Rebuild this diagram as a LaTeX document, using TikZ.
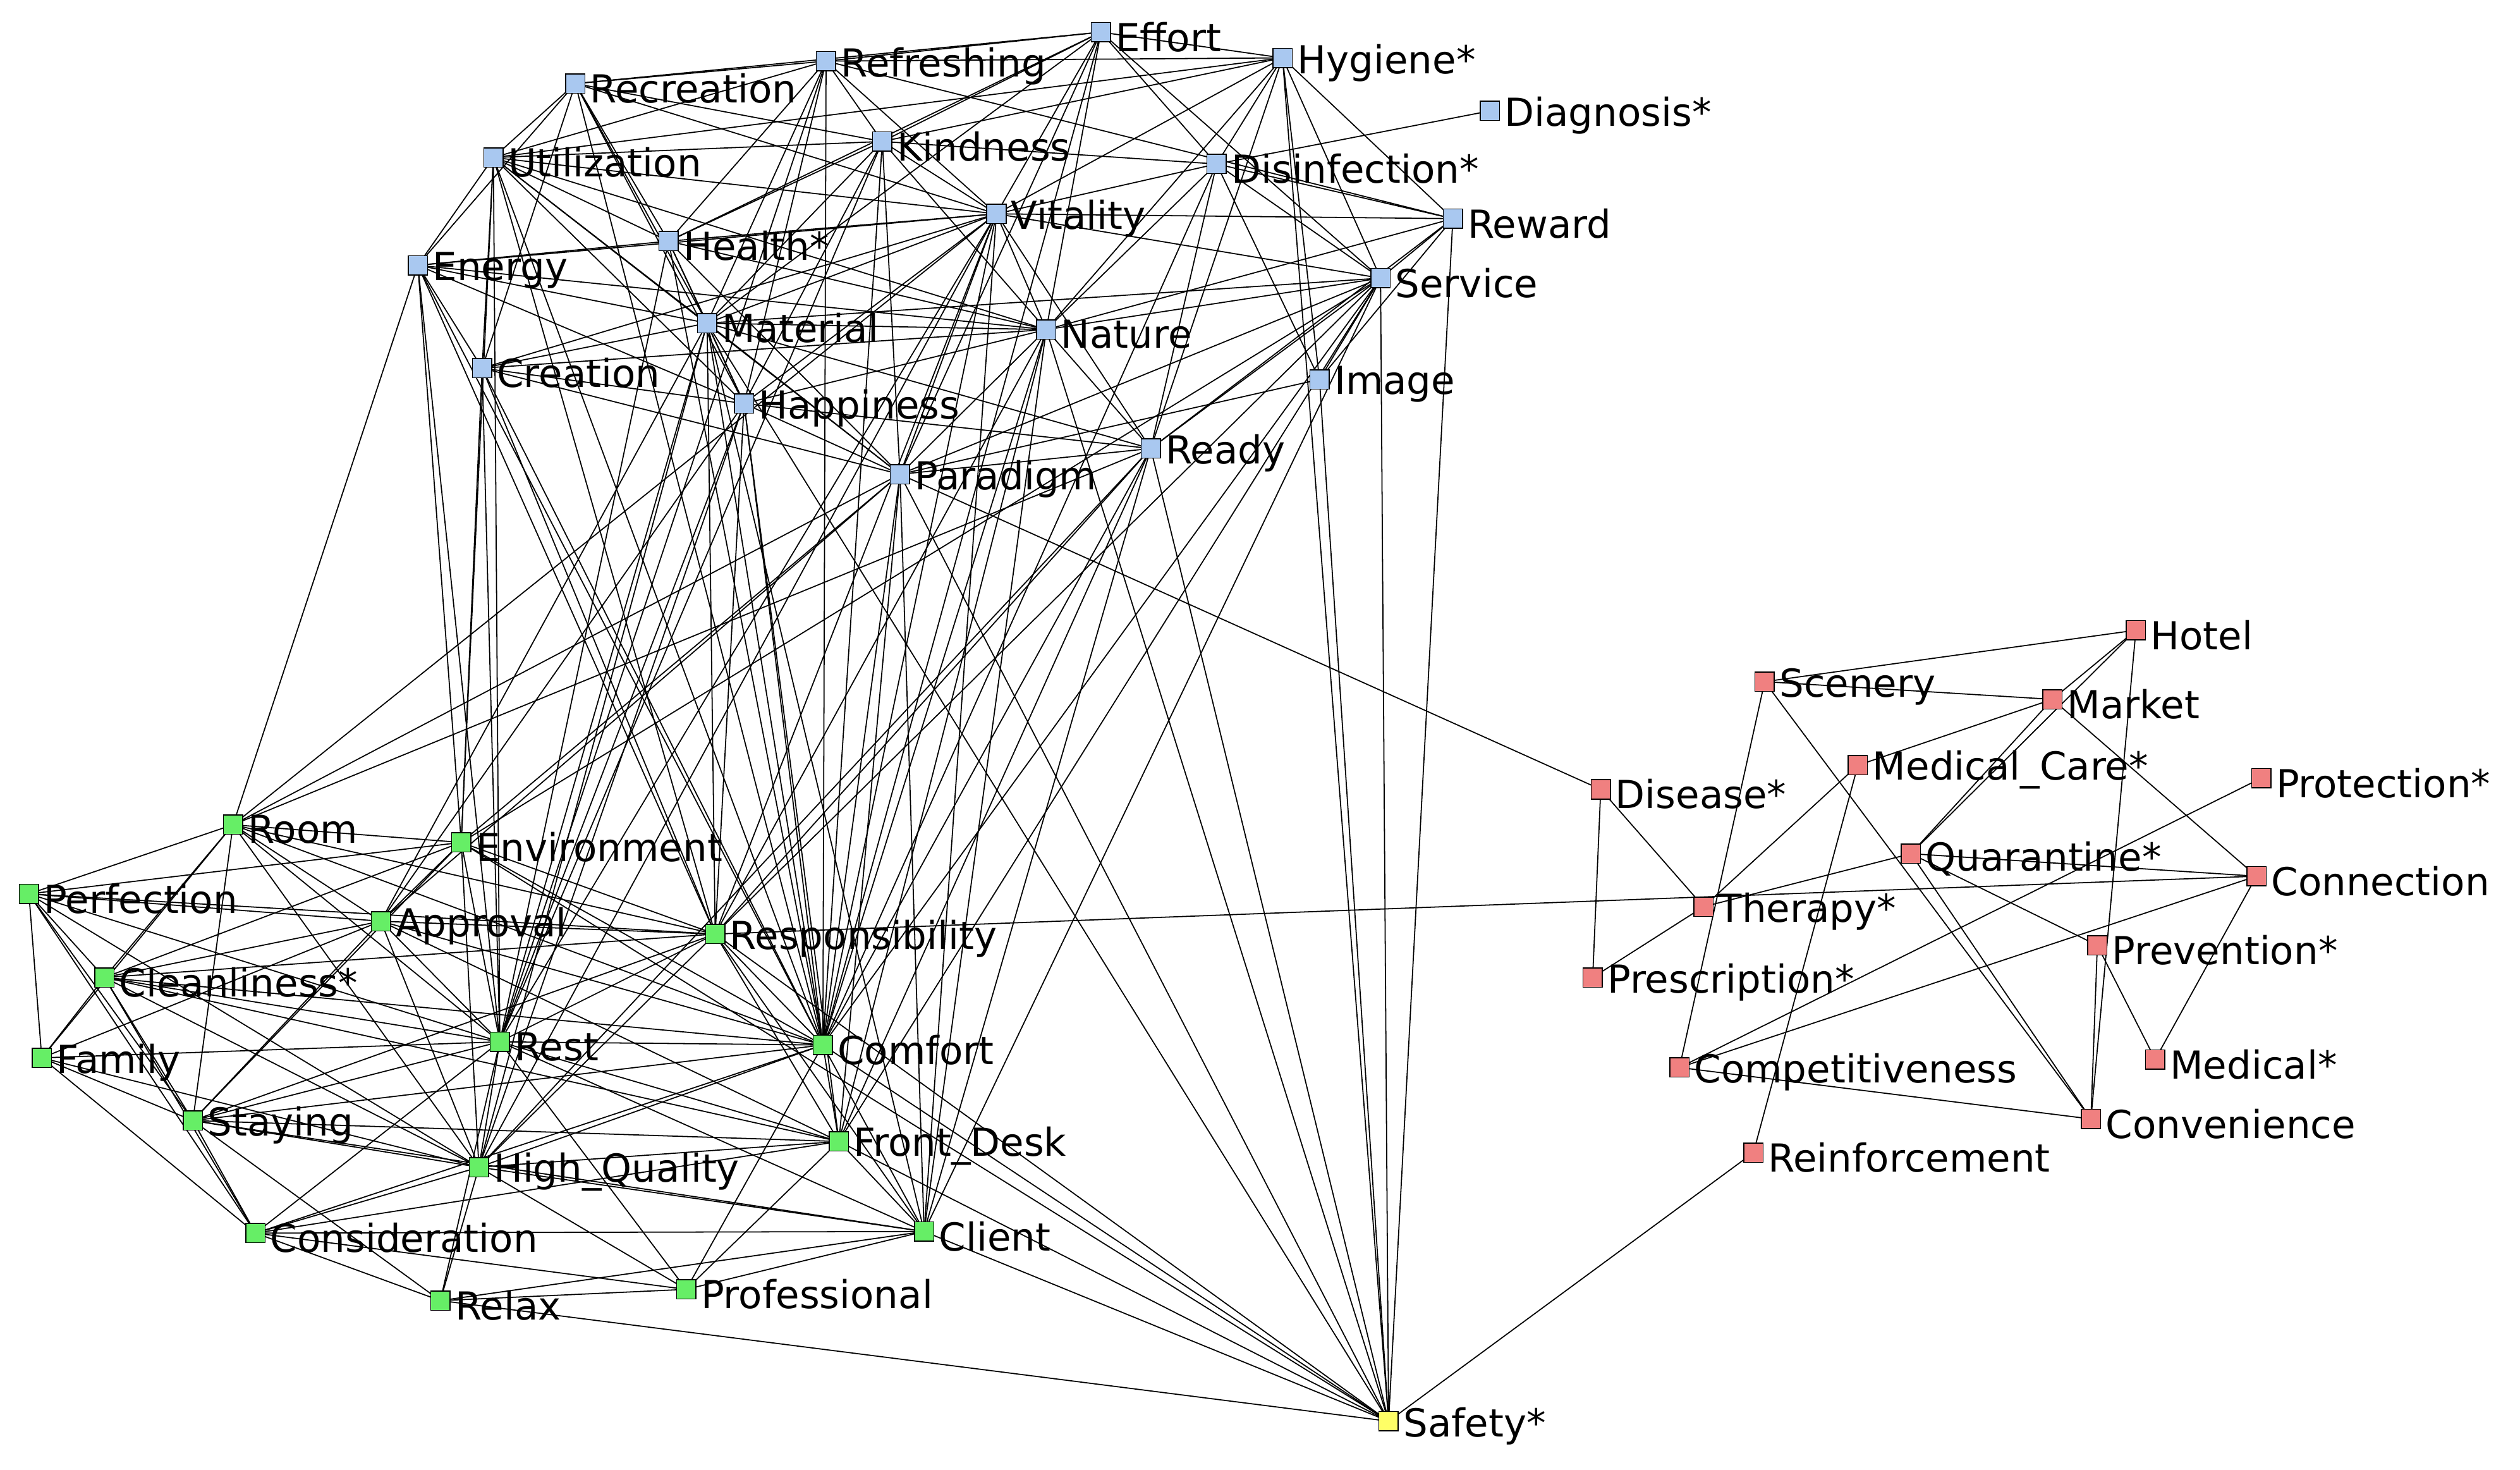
\documentclass[tikz,border=0pt]{standalone}
\usepackage{fontspec}
\setmainfont{DejaVu Sans}
\usetikzlibrary{backgrounds}
\definecolor{bl}{HTML}{A9C8F0}
\definecolor{gr}{HTML}{66EE66}
\definecolor{rd}{HTML}{F08080}
\definecolor{ye}{HTML}{FFFF66}
\begin{document}
\begin{tikzpicture}[x=1pt,y=-1pt,
  sq/.style={draw=black,line width=0.6pt,minimum size=12pt,inner sep=0pt,outer sep=0pt},
  B/.style={sq,fill=bl}, G/.style={sq,fill=gr}, R/.style={sq,fill=rd}, Y/.style={sq,fill=ye},
  lab/.style={font=\fontsize{24}{28}\selectfont,inner sep=0pt,label distance=3pt,yshift=-3pt},
  ed/.style={line width=0.7pt,black}]
\useasboundingbox (0,0) rectangle (1568,914);
\def\N#1#2#3#4#5{\node[#1,label={[lab]right:#5}] (#2) at (#3,#4) {};}
% blue
\N{B}{Eff}{685}{20}{Effort}
\N{B}{Hyg}{798}{36}{Hygiene*}
\N{B}{Ref}{514}{38}{Refreshing}
\N{B}{Rec}{358}{52}{Recreation}
\N{B}{Dia}{927}{69}{Diagnosis*}
\N{B}{Kin}{549}{88}{Kindness}
\N{B}{Uti}{307}{98}{Utilization}
\N{B}{Dis}{757}{102}{Disinfection*}
\N{B}{Vit}{620}{133}{Vitality}
\N{B}{Rew}{904}{136}{Reward}
\N{B}{Hea}{416}{150}{Health*}
\N{B}{Ene}{260}{165}{Energy}
\N{B}{Ser}{859}{173}{Service}
\N{B}{Mat}{440}{201}{Material}
\N{B}{Nat}{651}{205}{Nature}
\N{B}{Cre}{300}{229}{Creation}
\N{B}{Ima}{821}{236}{Image}
\N{B}{Hap}{463}{251}{Happiness}
\N{B}{Rea}{716}{279}{Ready}
\N{B}{Par}{560}{295}{Paradigm}
% green
\N{G}{Roo}{145}{513}{Room}
\N{G}{Env}{287}{524}{Environment}
\N{G}{Per}{18}{556}{Perfection}
\N{G}{App}{237}{573}{Approval}
\N{G}{Res}{445}{581}{Responsibility}
\N{G}{Cle}{65}{608}{Cleanliness*}
\N{G}{Rst}{311}{648}{Rest}
\N{G}{Com}{512}{650}{Comfort}
\N{G}{Fam}{26}{658}{Family}
\N{G}{Sta}{120}{697}{Staying}
\N{G}{Fro}{522}{710}{Front\_Desk}
\N{G}{Hig}{298}{726}{High\_Quality}
\N{G}{Cli}{575}{766}{Client}
\N{G}{Con}{159}{767}{Consideration}
\N{G}{Rel}{274}{809}{Relax}
\N{G}{Pro}{427}{802}{Professional}
% yellow
\N{Y}{Saf}{864}{884}{Safety*}
% red
\N{R}{Hot}{1329}{392}{Hotel}
\N{R}{Sce}{1098}{424}{Scenery}
\N{R}{Mar}{1277}{435}{Market}
\N{R}{Mca}{1156}{476}{Medical\_Care*}
\N{R}{Prt}{1407}{484}{Protection*}
\N{R}{Dse}{996}{491}{Disease*}
\N{R}{Qua}{1189}{531}{Quarantine*}
\N{R}{Cnn}{1404}{545}{Connection}
\N{R}{The}{1060}{564}{Therapy*}
\N{R}{Pre}{1305}{588}{Prevention*}
\N{R}{Prs}{991}{608}{Prescription*}
\N{R}{Med}{1341}{659}{Medical*}
\N{R}{Cmp}{1045}{664}{Competitiveness}
\N{R}{Cnv}{1301}{696}{Convenience}
\N{R}{Rei}{1091}{717}{Reinforcement}
\begin{scope}[on background layer]
\fill[white] (0,0) rectangle (1568,914);
\foreach \a/\b in {
Eff/Ref,Eff/Hyg,Eff/Kin,Eff/Vit,Eff/Rec,Eff/Dis,Eff/Nat,Eff/Hea,Eff/Mat,Eff/Par,Eff/Ser,
Hyg/Ref,Hyg/Kin,Hyg/Dis,Hyg/Vit,Hyg/Rew,Hyg/Ser,Hyg/Ima,Hyg/Rea,Hyg/Nat,Hyg/Uti,
Ref/Rec,Ref/Kin,Ref/Uti,Ref/Vit,Ref/Hea,Ref/Mat,Ref/Hap,Ref/Rew,
Rec/Uti,Rec/Kin,Rec/Hea,Rec/Ene,Rec/Mat,Rec/Cre,Rec/Vit,Rec/Hap,
Kin/Uti,Kin/Vit,Kin/Hea,Kin/Mat,Kin/Nat,Kin/Hap,Kin/Par,Kin/Dis,
Uti/Ene,Uti/Hea,Uti/Vit,Uti/Mat,Uti/Cre,Uti/Hap,Uti/Nat,Uti/Par,
Dis/Vit,Dis/Rew,Dis/Ser,Dis/Ima,Dis/Nat,Dis/Rea,Dia/Dis,
Vit/Hea,Vit/Mat,Vit/Nat,Vit/Ser,Vit/Rew,Vit/Hap,Vit/Par,Vit/Rea,Vit/Ene,Vit/Cre,
Rew/Ser,Rew/Ima,Rew/Rea,Rew/Nat,
Hea/Ene,Hea/Mat,Hea/Hap,Hea/Nat,Hea/Par,
Ene/Mat,Ene/Cre,Ene/Hap,Ene/Nat,
Ser/Ima,Ser/Rea,Ser/Nat,Ser/Par,Ser/Mat,
Mat/Nat,Mat/Cre,Mat/Hap,Mat/Par,Mat/Rea,
Nat/Hap,Nat/Par,Nat/Rea,Nat/Cre,Cre/Hap,Cre/Par,Hap/Par,Hap/Rea,Par/Rea,Par/Ima,
Roo/Env,Roo/Per,Roo/App,Roo/Cle,Roo/Rst,Roo/Com,Roo/Res,Roo/Fam,Roo/Sta,Roo/Hig,
Env/App,Env/Res,Env/Rst,Env/Com,Env/Per,Env/Cle,Env/Sta,Env/Hig,
Per/App,Per/Cle,Per/Fam,Per/Sta,Per/Rst,Per/Con,Per/Hig,Per/Res,
App/Res,App/Cle,App/Rst,App/Com,App/Sta,App/Hig,App/Fam,App/Fro,
Res/Rst,Res/Com,Res/Cle,Res/Fro,Res/Hig,Res/Cli,Res/Sta,
Cle/Rst,Cle/Fam,Cle/Sta,Cle/Hig,Cle/Con,Cle/Com,Cle/Fro,
Rst/Com,Rst/Fro,Rst/Hig,Rst/Cli,Rst/Sta,Rst/Con,Rst/Rel,Rst/Pro,Rst/Fam,
Com/Fro,Com/Cli,Com/Hig,Com/Sta,Com/Pro,Com/Con,
Fam/Sta,Fam/Con,Fam/Hig,Sta/Hig,Sta/Con,Sta/Rel,Sta/Fro,Sta/Cli,
Fro/Cli,Fro/Hig,Fro/Pro,Fro/Con,Hig/Cli,Hig/Con,Hig/Rel,Hig/Pro,
Cli/Pro,Cli/Con,Cli/Rel,Con/Rel,Con/Pro,Rel/Pro,
Com/Rec,Com/Ref,Com/Uti,Com/Kin,Com/Hea,Com/Vit,Com/Mat,Com/Nat,Com/Hap,Com/Par,Com/Cre,Com/Ene,Com/Rea,Com/Ser,Com/Dis,Com/Eff,
Rst/Uti,Rst/Ene,Rst/Cre,Rst/Mat,Rst/Vit,Rst/Hap,Rst/Kin,Rst/Hea,Rst/Ref,
Res/Ene,Res/Uti,Res/Cre,Res/Mat,Res/Vit,Res/Nat,Res/Hap,Res/Rea,Res/Ser,
Roo/Ene,Roo/Rea,Roo/Par,Roo/Vit,Env/Uti,Env/Cre,Env/Ene,Env/Par,Env/Ser,
Cli/Par,Cli/Rea,Cli/Nat,Cli/Mat,Cli/Vit,Cli/Ser,Fro/Rea,Fro/Ser,Fro/Nat,Fro/Par,Fro/Hap,
Hig/Mat,Hig/Vit,Hig/Hap,Hig/Rea,App/Hap,App/Mat,App/Par,
Saf/Hyg,Saf/Rew,Saf/Ima,Saf/Ser,Saf/Rea,Saf/Par,Saf/Nat,Saf/Com,Saf/Cli,Saf/Fro,Saf/Rel,Saf/Rei,Saf/Res,Saf/Env,Saf/Mat,
Par/Dse,Res/Cnn,
Hot/Sce,Hot/Mar,Hot/Qua,Hot/Cnv,Sce/Mar,Mar/Qua,Mar/Cnn,Mar/Mca,Sce/Cmp,Sce/Cnv,
Dse/Prs,Dse/The,The/Prs,The/Mca,Mca/Rei,Qua/Cnv,Qua/Pre,Qua/Cnn,Qua/The,
Prt/Cmp,Cnn/Med,Pre/Cnv,Pre/Med,Cmp/Cnv,Cnn/Cmp}
  \draw[ed] (\a) -- (\b);
\end{scope}
\end{tikzpicture}
\end{document}
